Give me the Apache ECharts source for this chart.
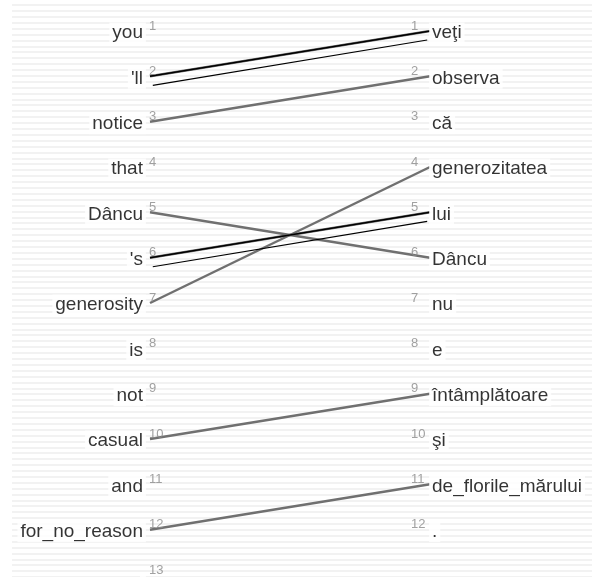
<!DOCTYPE html>
<html>
<head>
<meta charset="utf-8">
<script src="https://cdn.jsdelivr.net/npm/echarts@6/dist/echarts.min.js"></script>
<style>
html, body { margin: 0; padding: 0; background: #fff; }
#chart { width: 604px; height: 577px; }
</style>
</head>
<body>
<div id="chart"></div>
<script>
// english tokens (left column)
var leftWords = ['you', "'ll", 'notice', 'that', 'Dâncu', "'s", 'generosity', 'is', 'not', 'casual', 'and', 'for_no_reason', ''];
// romanian tokens (right column)
var rightWords = ['veţi', 'observa', 'că', 'generozitatea', 'lui', 'Dâncu', 'nu', 'e', 'întâmplătoare', 'şi', 'de_florile_mărului', '.'];
// gray alignment links [left token no, right token no]
var grayLinks = [[2, 1], [3, 2], [5, 6], [7, 4], [10, 9], [12, 11], [6, 5]];
// black double links [left token no, right token no]
var blackLinks = [[2, 1], [6, 5]];

var FONT = 'Liberation Sans, Arial, sans-serif';

drawAlignChart();

function hiddenAxis(extra) {
	var ax = {
		type: 'value',
		axisLine: { show: false },
		axisTick: { show: false },
		axisLabel: { show: false },
		splitLine: { show: false }
	};
	for (var k in extra) ax[k] = extra[k];
	return ax;
}

function drawAlignChart() {
	var chart = echarts.init(document.getElementById('chart'));
	var series = [];

	// gray links
	for (var i = 0; i < grayLinks.length; i++) {
		series.push({
			type: 'line', xAxisIndex: 0, yAxisIndex: 0,
			symbol: 'none', silent: true, z: 2,
			lineStyle: { color: '#707070', width: 2.5 },
			data: [[0, grayLinks[i][0]], [1, grayLinks[i][1]]]
		});
	}
	// black links, each drawn twice (second one a bit lower)
	for (var j = 0; j < blackLinks.length; j++) {
		series.push({
			type: 'line', xAxisIndex: 0, yAxisIndex: 0,
			symbol: 'none', silent: true, z: 3,
			lineStyle: { color: '#000', width: 1.6 },
			data: [[0, blackLinks[j][0]], [1, blackLinks[j][1]]]
		});
		series.push({
			type: 'line', xAxisIndex: 0, yAxisIndex: 0,
			symbol: 'none', silent: true, z: 3,
			lineStyle: { color: '#000', width: 1.1 },
			data: [[0.01, blackLinks[j][0] + 0.2], [0.99, blackLinks[j][1] + 0.2]]
		});
	}

	var leftData = [], rightData = [];
	for (var a = 0; a < leftWords.length; a++) leftData.push([0, a + 1, leftWords[a]]);
	for (var b = 0; b < rightWords.length; b++) rightData.push([1, b + 1, rightWords[b]]);

	function scatter(data, label) {
		return {
			type: 'scatter', xAxisIndex: 0, yAxisIndex: 0, data: data, label: label,
			symbolSize: 0.1, itemStyle: { color: 'transparent' }, silent: true, z: 5
		};
	}

	// left words
	series.push(scatter(leftData, {
		show: true, position: 'left', distance: 4, offset: [0, 2],
		formatter: function (p) { return p.data[2]; },
		fontFamily: FONT, fontSize: 19, color: '#000',
		backgroundColor: '#fff', padding: [1, 3]
	}));
	// left numbers
	series.push(scatter(leftData, {
		show: true, position: 'right', distance: -1, offset: [0, -5],
		formatter: function (p) { return p.data[1]; },
		fontFamily: FONT, fontSize: 13, color: '#8a8a8a'
	}));
	// right words
	series.push(scatter(rightData, {
		show: true, position: 'right', distance: -1, offset: [0, 2],
		formatter: function (p) { return p.data[2]; },
		fontFamily: FONT, fontSize: 19, color: '#000',
		backgroundColor: '#fff', padding: [1, 3]
	}));
	// right numbers
	series.push(scatter(rightData, {
		show: true, position: [-19, -5], align: 'left', verticalAlign: 'middle',
		formatter: function (p) { return p.data[1]; },
		fontFamily: FONT, fontSize: 13, color: '#8a8a8a'
	}));

	var option = {
		animation: false,
		backgroundColor: '#fff',
		grid: [
			{ left: 150, right: 174, top: 31, height: 544 },
			// striped background
			{ left: 12, right: 12, top: 5, height: 572, z: 0 }
		],
		xAxis: [
			hiddenAxis({ min: 0, max: 1, gridIndex: 0 }),
			hiddenAxis({ min: 0, max: 1, gridIndex: 1 })
		],
		yAxis: [
			hiddenAxis({ min: 1, max: 13, inverse: true, gridIndex: 0 }),
			hiddenAxis({
				min: 0, max: 97, interval: 1, gridIndex: 1, z: 0,
				splitLine: { show: true, lineStyle: { color: '#f2f2f2', width: 2 } }
			})
		],
		series: series
	};
	chart.setOption(option);
}
</script>
</body>
</html>
